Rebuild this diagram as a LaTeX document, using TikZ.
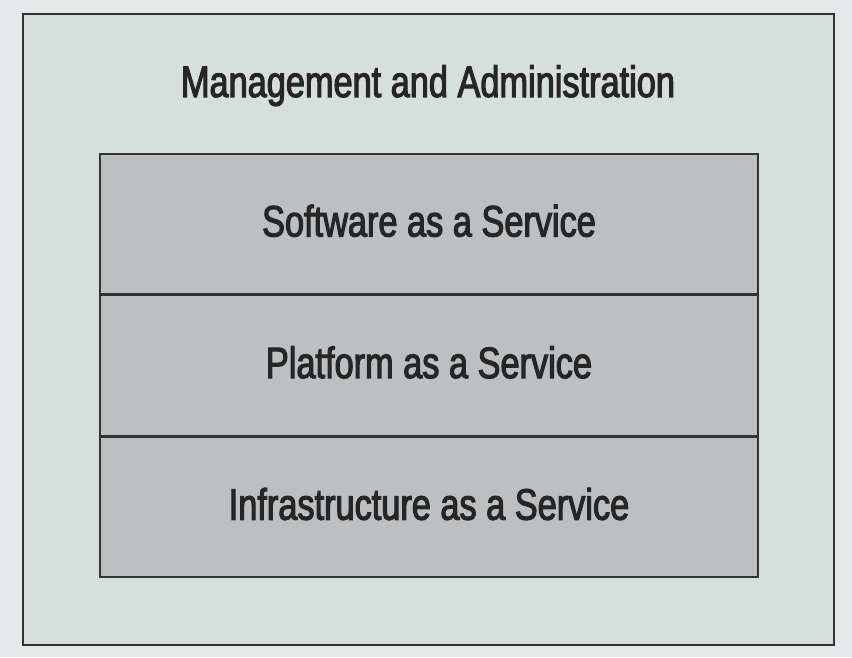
\documentclass[tikz,border=0pt]{standalone}
\usepackage{fontspec}
\setmainfont{Liberation Sans}[FakeStretch=0.78, FakeBold=2.5]
\usepackage{tikz}
\usetikzlibrary{positioning}
\definecolor{pale mint}{rgb}{0.8353, 0.8784, 0.8627}
\definecolor{page grey}{rgb}{0.8941, 0.9137, 0.9137}
\definecolor{layer grey}{rgb}{0.7373, 0.7529, 0.7608}
\definecolor{edge grey}{rgb}{0.2, 0.2, 0.2}
\tikzset{
	label text/.style = {text = black!85, font = \fontsize{44}{50}\selectfont,
		text height = 32pt, text depth = 0pt, inner sep = 0pt},
	layer/.style = {label text, text depth = 7pt, draw = edge grey, fill = layer grey,
		line width = 1.6pt, minimum width = 658pt, minimum height = 140pt}
}

\begin{document}
\begin{tikzpicture}[x = 1pt, y = 1pt]
			% page
			\fill[page grey] (0, 0) rectangle (852, 657);
			\useasboundingbox (0, 0) rectangle (852, 657);
			% management frame
			\begin{scope}
				\draw[edge grey, fill = pale mint, line width = 1.6pt] (23, 12) rectangle (834, 643);
				\node[label text] (mgmt) at (428, 576) {Management and Administration};
			\end{scope}
			% service layers
			\begin{scope}
				\node[layer] (saas) at (429, 433) {Software as a Service};
				\node[layer, below = 0pt of saas] (paas) {Platform as a Service};
				\node[layer, below = 0pt of paas] (iaas) {Infrastructure as a Service};
			\end{scope}
		\end{tikzpicture}
\end{document}
